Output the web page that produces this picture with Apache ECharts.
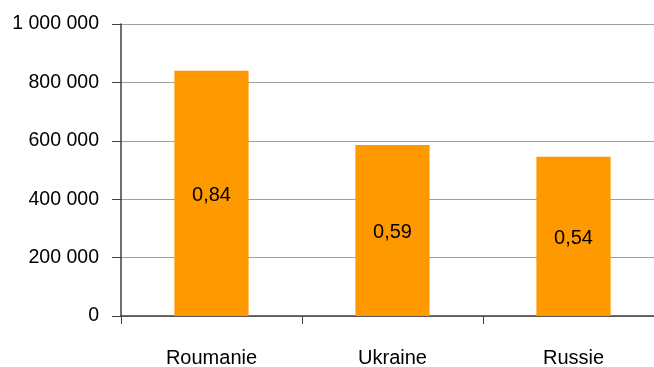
<!DOCTYPE html>
<html>
<head>
<meta charset="utf-8">
<script src="https://cdn.jsdelivr.net/npm/echarts@6/dist/echarts.min.js"></script>
<style>
  html, body { margin: 0; padding: 0; background: #fff; }
  #chart { width: 654px; height: 367px; }
</style>
</head>
<body>
<div id="chart"></div>
<script>
// données
var pays = ['Roumanie', 'Ukraine', 'Russie'];
var valeurs = [840000, 586000, 545000];
var ratios = ['0,84', '0,59', '0,54'];

function espaces(v) {
    return String(v).replace(/\B(?=(\d{3})+(?!\d))/g, ' ');
}

var chart = echarts.init(document.getElementById('chart'), null, {renderer: 'canvas'});
chart.setOption({
    animation: false,
    textStyle: {fontFamily: 'Liberation Sans'},
    grid: {left: 121, top: 24, right: -10, bottom: 51, outerBoundsMode: 'none'},
    xAxis: {
        type: 'category',
        data: pays,
        axisLine: {lineStyle: {color: '#404040', width: 1.5}},
        axisTick: {show: true, length: 8, lineStyle: {color: '#404040'}},
        axisLabel: {color: '#000', fontSize: 20, margin: 32}
    },
    yAxis: {
        type: 'value',
        min: 0,
        max: 1000000,
        interval: 200000,
        axisLine: {show: true, lineStyle: {color: '#404040', width: 1.5}},
        axisTick: {show: true, length: 9, lineStyle: {color: '#404040'}},
        axisLabel: {color: '#000', fontSize: 19.5, margin: 22, formatter: espaces},
        splitLine: {show: true, lineStyle: {color: '#a0a0a0', width: 1}}
    },
    series: [{
        type: 'bar',
        data: valeurs,
        barWidth: '41%',
        itemStyle: {color: '#ff9900'},
        label: {
            show: true,
            position: 'inside',
            offset: [0, 2],
            color: '#000',
            fontSize: 20,
            formatter: function (p) { return ratios[p.dataIndex]; }
        }
    }]
});
</script>
</body>
</html>
